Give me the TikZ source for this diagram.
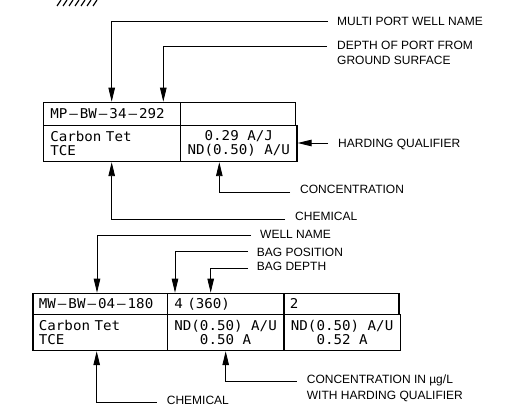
\documentclass[tikz,border=0pt]{standalone}
\usepackage{fontspec}
\setmainfont{Liberation Sans}
\newfontfamily\cadfont[FakeStretch=1.05]{DejaVu Sans Mono}
\usetikzlibrary{arrows.meta}
\newcommand\cdsh{\kern2pt\textendash\kern2pt}
\begin{document}
\begin{tikzpicture}[x=1pt,y=-1pt,
  cell/.style={draw, line width=1.2pt, anchor=north west, inner xsep=7pt, inner ysep=0pt,
    font=\cadfont\fontsize{13.5}{14}\selectfont},
  lbl/.style={anchor=west, inner sep=0pt, text height=8.6pt, text depth=0pt,
    font=\fontsize{12}{15}\selectfont},
  conn/.style={line width=0.9pt},
  arr/.style={conn, -{Triangle[length=14pt,width=6.5pt]}},
  hatch/.style={line width=1.2pt}
]
\useasboundingbox[fill=white] (0,0) rectangle (507,412);

% hatching
\foreach \i in {0,...,6} \draw[hatch] (57+6*\i,6) -- (61+6*\i,0);

% top table
\node[cell, minimum width=137.3pt, minimum height=23.3pt, text width=123.3pt, align=left] (t11) at (42.7,101.7) {MP\cdsh BW\cdsh 34\cdsh 292};
\node[cell, minimum width=115pt, minimum height=23.3pt] (t12) at (180,101.7) {};
\node[cell, minimum width=137.3pt, minimum height=36pt, text width=123.3pt, align=left] (t21) at (42.7,125) {Carbon Tet\\TCE};
\node[cell, minimum width=115pt, minimum height=36pt, align=center] (t22) at (180,125) {0.29 A/J\\ND(0.50) A/U};

% bottom table
\node[cell, minimum width=134.4pt, minimum height=21.3pt, inner xsep=6pt, text width=122.4pt, align=left] (b11) at (32.3,292.7) {MW\cdsh BW\cdsh 04\cdsh 180};
\node[cell, minimum width=116.6pt, minimum height=21.3pt, text width=102.6pt, align=left] (b12) at (166.7,292.7) {4 (360)};
\node[cell, minimum width=115pt, minimum height=21.3pt, inner xsep=6pt, text width=103pt, align=left] (b13) at (283.3,292.7) {2};
\node[cell, minimum width=134.4pt, minimum height=36pt, inner xsep=6pt, text width=122.4pt, align=left] (b21) at (32.3,314) {Carbon Tet\\TCE};
\node[cell, minimum width=116.6pt, minimum height=36pt, align=center] (b22) at (166.7,314) {ND(0.50) A/U\\0.50 A};
\node[cell, minimum width=115pt, minimum height=36pt, align=center] (b23) at (283.3,314) {ND(0.50) A/U\\0.52 A};

% labels
\node[lbl] (L1) at (337,21.2) {MULTI PORT WELL NAME};
\node[lbl] (L2a) at (337,45.5) {DEPTH OF PORT FROM};
\node[lbl] (L2b) at (337,60.5) {GROUND SURFACE};
\node[lbl] (L3) at (338,143) {HARDING QUALIFIER};
\node[lbl] (L4) at (300,189.2) {CONCENTRATION};
\node[lbl] (L5) at (295,216.7) {CHEMICAL};
\node[lbl] (L6) at (260,233.7) {WELL NAME};
\node[lbl] (L7) at (256.7,251.7) {BAG POSITION};
\node[lbl] (L8) at (256.7,266.2) {BAG DEPTH};
\node[lbl] (L9a) at (306.7,379.3) {CONCENTRATION IN µg/L};
\node[lbl] (L9b) at (306.7,395) {WITH HARDING QUALIFIER};
\node[lbl] (L10) at (166.7,400) {CHEMICAL};

% connectors
\draw[arr] ([xshift=-9pt]L1.west) -| ([xshift=69pt]t11.north west);
\draw[arr] ([xshift=-10pt,yshift=-0.5pt]L2a.west) -| ([xshift=120.6pt]t11.north west);
\draw[arr] ([xshift=-10pt]L3.west) -- (L3.west -| t22.east);
\draw[arr] ([xshift=-10pt,yshift=-3.5pt]L4.west) -| ([xshift=39.3pt]t22.south west);
\draw[arr] ([xshift=-10pt,yshift=-2.3pt]L5.west) -| ([xshift=69pt]t21.south west);
\draw[arr] ([xshift=-9pt,yshift=-1.3pt]L6.west) -| ([xshift=64.7pt]b11.north west);
\draw[arr] ([xshift=-8.7pt]L7.west) -| ([xshift=8.3pt]b12.north west);
\draw[arr] ([xshift=-8.7pt,yshift=-2pt]L8.west) -| ([xshift=44pt]b12.north west);
\draw[arr] ([xshift=-10pt,yshift=-2.4pt]L9a.west) -| ([xshift=59pt]b22.south west);
\draw[arr] ([xshift=-10pt,yshift=-2.3pt]L10.west) -| ([xshift=64.4pt]b21.south west);
\end{tikzpicture}
\end{document}
